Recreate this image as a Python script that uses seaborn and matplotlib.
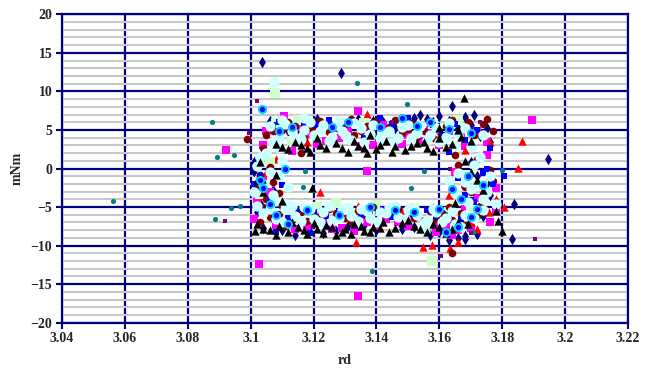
import matplotlib
matplotlib.use("Agg")
import matplotlib.pyplot as plt
import seaborn as sns

# ---- data (rd, mNm) ----
navy_x = [3.118, 3.125, 3.131, 3.139, 3.146, 3.152, 3.156, 3.160, 3.163, 3.166, 3.170, 3.173, 3.176, 3.112, 3.107,
          3.172, 3.176, 3.170,
          3.104, 3.110, 3.119, 3.127, 3.136, 3.145, 3.152, 3.160, 3.166, 3.172, 3.168,
          3.101, 3.103, 3.105, 3.107,
          3.1036, 3.1287, 3.164, 3.1945, 3.1831, 3.1837, 3.1008,
          3.106, 3.115, 3.121, 3.128, 3.134, 3.142, 3.149, 3.154, 3.158, 3.168, 3.171, 3.175,
          3.102, 3.107, 3.114, 3.123, 3.131, 3.140, 3.148, 3.157, 3.163, 3.169, 3.174, 3.175, 3.178,
          3.101, 3.168]
navy_y = [5.8, 6.0, 5.5, 6.2, 5.2, 6.6, 6.4, 6.8, 6.1, 5.3, 5.6, 4.2, 3.4, 4.9, 5.2,
          -1.0, -3.5, 0.8,
          -7.7, -8.0, -7.5, -8.1, -7.3, -5.8, -7.6, -8.2, -9.0, -8.5, -8.8,
          -0.3, -4.5, 1.5, -2.8,
          13.8, 12.4, 8.1, 1.2, -9.15, -4.6, -0.2,
          6.1, 5.3, 6.4, 5.0, 6.4, 6.0, 5.5, 7.0, 6.0, 6.7, 6.9, 5.2,
          -5.7, -6.5, -8.6, -8.4, -7.4, -8.0, -7.9, -8.6, -9.3, -7.3, -6.2, -1.9, -4.4,
          0.9, -9.2]

magenta_x = [3.1106, 3.110, 3.105, 3.118, 3.131, 3.142, 3.150, 3.157, 3.167, 3.175, 3.160, 3.135, 3.148, 3.124,
             3.1341, 3.1894, 3.0921, 3.113, 3.172,
             3.104, 3.108, 3.106, 3.175, 3.168, 3.172, 3.165,
             3.101, 3.108, 3.114, 3.120, 3.129, 3.137, 3.143, 3.150, 3.155, 3.160, 3.166, 3.170, 3.178, 3.176,
             3.1026, 3.1341, 3.137,
             3.109, 3.121, 3.128, 3.139, 3.154, 3.163, 3.168, 3.104,
             3.118, 3.126, 3.133, 3.147, 3.162, 3.168, 3.102, 3.178, 3.159,
             3.111, 3.123, 3.140, 3.152, 3.164, 3.106, 3.116]
magenta_y = [6.8, 6.2, 4.8, 4.5, 5.1, 5.7, 4.3, 5.0, 4.5, 3.5, 3.0, 2.9, 3.2, 3.6,
             7.45, 6.3, 2.4, 2.3, 4.8,
             -1.5, -4.0, 0.5, 1.8, -2.0, -3.8, -0.5,
             -6.5, -7.3, -7.8, -7.2, -7.7, -7.0, -6.6, -7.5, -6.8, -7.2, -8.0, -7.7, -5.5, -7.0,
             -12.4, -16.5, -0.3,
             4.0, 3.2, 4.0, 3.1, 3.6, 4.9, 2.9, 3.0,
             -7.4, -7.9, -8.1, -7.0, -7.5, -5.2, -4.0, -2.5, -8.2,
             -6.9, -6.6, -7.4, -6.3, -8.6, -3.0, 5.4]

red_x = [3.137, 3.127, 3.160, 3.170, 3.176, 3.1862, 3.185, 3.118, 3.105, 3.108, 3.122, 3.134, 3.148, 3.158,
         3.165, 3.170, 3.1335, 3.1548, 3.1577, 3.1635, 3.172, 3.178, 3.1758, 3.112, 3.104, 3.166, 3.1805,
         3.168, 3.163]
red_y = [7.05, 5.4, 4.2, 4.9, 3.5, 3.55, 0.05, 3.5, -0.5, 1.2, -3.0, -4.8, -5.5, -5.0,
         -7.5, -6.9, -9.55, -10.2, -9.9, -10.3, -7.9, -4.0, -5.6, -4.8, -3.6, -9.5, -5.0,
         2.4, -3.5]

palegreen_x = [3.108, 3.115, 3.124, 3.136, 3.148, 3.158, 3.166, 3.1077, 3.113, 3.103, 3.106, 3.174, 3.167,
               3.112, 3.121, 3.133, 3.140, 3.152, 3.163, 3.170, 3.1577, 3.127]
palegreen_y = [5.9, 6.3, 5.0, 5.9, 6.1, 5.8, 6.3, 9.8, 3.6, -3.3, 0.9, -2.2, -0.8,
               -5.7, -5.0, -5.9, -4.7, -5.1, -5.6, -5.0, -12.0, -4.5]

darkred_x = [3.105, 3.110, 3.114, 3.119, 3.122, 3.125, 3.130, 3.133, 3.137, 3.140, 3.144, 3.148, 3.151, 3.155,
             3.158, 3.162, 3.166, 3.169, 3.174, 3.177, 3.0988, 3.116,
             3.103, 3.107, 3.104, 3.109, 3.105,
             3.166, 3.170, 3.172, 3.167, 3.176,
             3.103, 3.109, 3.113, 3.116, 3.122, 3.125, 3.130, 3.134, 3.139, 3.143, 3.147, 3.152, 3.157, 3.161,
             3.164, 3.164,
             3.107, 3.112, 3.117, 3.121, 3.128, 3.132, 3.135, 3.142, 3.146, 3.150, 3.153, 3.157, 3.160, 3.164,
             3.171, 3.175,
             3.102, 3.106, 3.110, 3.104,
             3.168, 3.173, 3.177, 3.165,
             3.106, 3.111, 3.118, 3.127, 3.132, 3.137, 3.141, 3.150, 3.155, 3.159, 3.163, 3.168, 3.172]
darkred_y = [4.3, 5.0, 5.5, 5.2, 6.1, 4.7, 5.8, 4.4, 5.5, 6.2, 5.4, 4.6, 5.9, 4.9,
             4.0, 5.5, 4.6, 6.0, 5.8, 4.9, 3.8, 2.0,
             -0.8, -1.8, -5.0, -3.2, -4.0,
             0.5, -3.1, 1.2, -5.8, -0.2,
             -6.9, -5.9, -6.7, -5.6, -6.0, -5.3, -6.4, -5.5, -5.0, -6.0, -5.2, -6.4, -5.5, -5.8,
             -6.7, -11.0,
             4.9, 6.0, 4.0, 5.0, 5.1, 6.4, 4.9, 4.8, 6.3, 5.1, 4.1, 6.2, 4.8, 6.3,
             4.4, 6.4,
             -2.4, 0.2, -4.8, 2.6,
             -2.4, -4.8, -1.6, 1.8,
             -6.3, -7.5, -6.8, -5.8, -7.0, -6.2, -5.5, -5.8, -7.0, -6.5, -5.0, -7.3, -6.2]

blue_x = [3.107, 3.113, 3.121, 3.129, 3.136, 3.145, 3.154, 3.161, 3.168, 3.163, 3.103, 3.106, 3.110,
          3.166, 3.171, 3.175, 3.115, 3.124, 3.131, 3.138, 3.145, 3.151, 3.159, 3.167, 3.177, 3.1805,
          3.119, 3.108,
          3.109, 3.117, 3.125, 3.133, 3.141, 3.150, 3.158, 3.165, 3.172, 3.176,
          3.101, 3.104, 3.112, 3.120, 3.128, 3.135, 3.142, 3.156, 3.163, 3.170, 3.174, 3.168]
blue_y = [5.7, 4.6, 5.6, 5.3, 4.0, 5.8, 5.3, 4.4, 3.7, 2.2, -1.0, -3.9, -2.2,
          -1.2, -4.4, 0.0, -5.2, -6.2, -5.2, -5.8, -6.3, -5.9, -6.2, -6.5, -2.0, -1.0,
          -8.4, -8.2,
          6.0, 5.8, 6.3, 5.8, 6.6, 6.5, 5.6, 5.8, 5.0, 2.6,
          -2.0, -5.4, -6.4, -5.7, -5.5, -6.0, -5.2, -5.4, -6.0, -4.1, -0.6, -3.4]

ring_x = [3.1036, 3.109, 3.126, 3.141, 3.157, 3.163, 3.104, 3.108, 3.169, 3.164, 3.172, 3.118, 3.146, 3.160,
          3.162, 3.111, 3.167,
          3.113, 3.131, 3.148, 3.153, 3.170, 3.106, 3.112, 3.128, 3.138, 3.152, 3.166, 3.170, 3.174, 3.103]
ring_y = [7.7, 4.8, 5.4, 5.4, 6.0, 5.1, -2.5, -6.0, -1.0, -2.7, -5.2, -5.4, -5.4, -5.3,
          -8.3, 0.0, -3.9,
          5.4, 6.0, 6.5, 5.5, 4.6, -4.6, -7.2, -6.0, -5.0, -5.7, -7.6, -6.3, -2.2, -1.5]

lightcyan_x = [3.106, 3.109, 3.111, 3.114, 3.117, 3.120, 3.123, 3.126, 3.129, 3.132, 3.135, 3.138, 3.141,
               3.144, 3.147, 3.150, 3.153, 3.156, 3.159, 3.162, 3.165, 3.168, 3.117, 3.128, 3.109, 3.173,
               3.1075,
               3.104, 3.107, 3.102, 3.109, 3.105, 3.111,
               3.168, 3.171, 3.165, 3.174, 3.170, 3.176,
               3.104, 3.108, 3.111, 3.114, 3.117, 3.120, 3.123, 3.126, 3.129, 3.132, 3.135, 3.138, 3.141,
               3.144, 3.147, 3.150, 3.153, 3.156, 3.159, 3.162, 3.165, 3.168, 3.1555,
               3.107, 3.110, 3.113, 3.116, 3.119, 3.122, 3.125, 3.127, 3.130, 3.133, 3.136, 3.139, 3.142,
               3.145, 3.148, 3.151, 3.154, 3.157, 3.160, 3.163, 3.166, 3.170, 3.174,
               3.101, 3.106, 3.110, 3.103, 3.108, 3.112,
               3.166, 3.172, 3.169, 3.175, 3.163, 3.178,
               3.102, 3.106, 3.110, 3.113, 3.116, 3.119, 3.122, 3.125, 3.128, 3.131, 3.134, 3.137, 3.140,
               3.143, 3.146, 3.149, 3.152, 3.155, 3.158, 3.161, 3.164, 3.167, 3.171, 3.174]
lightcyan_y = [5.5, 4.0, 5.8, 3.9, 5.0, 4.4, 5.7, 4.1, 4.8, 3.7, 5.2, 4.5, 3.9,
               4.9, 4.0, 5.6, 4.6, 3.7, 5.3, 4.1, 3.0, 5.2, 6.5, 6.2, 2.6, 1.5,
               11.2,
               -2.0, -3.5, 0.3, -1.0, 2.0, -4.6,
               -1.8, 0.5, -3.2, -4.0, -2.6, -1.0,
               -5.8, -6.6, -5.3, -6.2, -5.0, -6.5, -5.6, -6.8, -5.4, -6.1, -5.2, -6.4, -5.6,
               -5.0, -6.3, -5.4, -6.0, -6.7, -5.7, -6.4, -7.2, -6.0, -8.2,
               3.4, 6.3, 4.8, 3.8, 6.0, 4.9, 3.6, 5.6, 4.3, 5.9, 3.5, 5.7, 4.6,
               3.4, 5.4, 3.9, 5.5, 4.4, 3.4, 5.9, 4.3, 2.8, 4.4,
               -3.0, -0.5, 1.0, 1.5, -4.2, -2.4,
               -0.6, -2.0, -4.4, -3.0, -1.6, -4.6,
               -4.8, -5.2, -7.0, -4.9, -6.8, -5.3, -7.0, -4.9, -6.4, -5.0, -6.8, -5.5, -7.0,
               -5.8, -4.8, -6.6, -5.1, -7.1, -5.2, -6.9, -5.5, -7.6, -6.4, -5.4]

black_x = [3.108, 3.112, 3.116, 3.119, 3.124, 3.127, 3.131, 3.134, 3.137, 3.140, 3.143, 3.146, 3.149,
           3.153, 3.156, 3.160, 3.164, 3.167, 3.170, 3.1678, 3.121, 3.138,
           3.102, 3.108, 3.104, 3.110, 3.103, 3.1036,
           3.168, 3.172, 3.174, 3.178, 3.1786, 3.1799, 3.170, 3.165,
           3.102, 3.106, 3.109, 3.112, 3.115, 3.118, 3.121, 3.124, 3.127, 3.130, 3.133, 3.136, 3.139,
           3.142, 3.146, 3.150, 3.154, 3.158, 3.162, 3.166, 3.1195,
           3.110, 3.114, 3.118, 3.122, 3.129, 3.133, 3.136, 3.141, 3.145, 3.151, 3.155, 3.158, 3.162,
           3.166, 3.160,
           3.104, 3.108, 3.113, 3.117, 3.120, 3.123, 3.126, 3.129, 3.132, 3.135, 3.138, 3.141, 3.144,
           3.148, 3.152, 3.156, 3.160, 3.164, 3.169, 3.1015]
black_y = [3.2, 2.5, 3.0, 2.2, 2.7, 3.3, 2.2, 2.9, 2.0, 2.5, 3.6, 2.9, 2.4,
           3.3, 2.6, 3.9, 3.2, 4.1, 3.6, 9.1, 4.0, 4.3,
           -1.5, -0.8, -3.0, -4.2, 0.8, -1.4,
           1.0, -1.5, -2.8, -5.5, -6.8, -8.1, -0.5, -4.5,
           -7.2, -8.0, -7.4, -8.3, -7.6, -8.5, -7.9, -7.3, -8.6, -7.8, -7.2, -8.1, -7.6,
           -6.9, -7.7, -6.7, -7.9, -7.2, -8.4, -7.0, -2.5,
           2.8, 3.5, 2.6, 3.1, 2.6, 3.6, 2.7, 3.1, 2.2, 2.9, 3.5, 2.3, 2.8,
           5.0, 5.2,
           -7.8, -8.6, -7.0, -8.0, -7.1, -8.4, -7.6, -8.2, -8.5, -7.5, -8.3, -7.7, -8.2,
           -7.1, -7.5, -8.2, -7.6, -7.9, -7.2, -8.1]

teal_x = [3.0562, 3.0877, 3.0893, 3.0947, 3.0937, 3.0966, 3.0887, 3.1338, 3.1166, 3.151, 3.1386,
          3.1551, 3.1497, 3.1173, 3.1707, 3.180]
teal_y = [-4.2, 6.03, 1.5, 1.75, -5.1, -4.9, -6.6, 11.1, -2.4, -2.5, -13.3,
          -0.3, 8.35, -0.3, -8.2, -0.2]

purple_x = [3.102, 3.0995, 3.0919, 3.1605, 3.1904, 3.170, 3.1634, 3.108, 3.145, 3.173]
purple_y = [8.75, 4.6, -6.8, -11.4, -9.2, -8.4, -0.1, -6.3, 6.0, 6.0]

x_ticks = [3.04, 3.06, 3.08, 3.1, 3.12, 3.14, 3.16, 3.18, 3.2, 3.22]
x_labels = ["3.04", "3.06", "3.08", "3.1", "3.12", "3.14", "3.16", "3.18", "3.2", "3.22"]
y_ticks = [-20, -15, -10, -5, 0, 5, 10, 15, 20]

sns.set_style("white")
plt.rcParams['font.family'] = ['Liberation Serif', 'DejaVu Serif']
plt.rcParams['font.weight'] = 'bold'

fig = plt.figure(figsize=(6.55, 3.69), dpi=100)
ax = fig.add_axes([0.0947, 0.1255, 0.8641, 0.8357])

navy = '#000080'

# series: (x, y, colour, marker, size)
series = [
    (navy_x, navy_y, navy, 'd', 34),
    (magenta_x, magenta_y, '#ff00ff', 's', 28),
    (red_x, red_y, '#ff0000', '^', 36),
    (palegreen_x, palegreen_y, '#ccffcc', 's', 45),
    (darkred_x, darkred_y, '#800000', 'o', 30),
    (blue_x, blue_y, '#0000ff', 's', 14),
    (lightcyan_x, lightcyan_y, '#ccffff', 'o', 55),
    (black_x, black_y, '#000000', '^', 36),
    (teal_x, teal_y, '#008080', 'o', 14),
    (purple_x, purple_y, '#800080', 's', 11),
]
for xs, ys, col, mk, sz in series:
    sns.scatterplot(x=xs, y=ys, color=col, marker=mk, s=sz, linewidth=0, ax=ax, legend=False, zorder=3)

# cyan ring with blue centre
sns.scatterplot(x=ring_x, y=ring_y, color='#0000ff', edgecolor='#00ccff', marker='o', s=26,
                linewidth=1.4, ax=ax, legend=False, zorder=3)

ax.set_xlim(3.04, 3.22)
ax.set_ylim(-20, 20)
ax.set_xticks(x_ticks)
ax.set_xticklabels(x_labels)
ax.set_yticks(y_ticks)
ax.set_yticks(range(-20, 21), minor=True)
ax.set_axisbelow(True)
ax.grid(which='minor', axis='y', color='#c8c8c8', linewidth=1.5, zorder=0)
ax.grid(which='major', axis='both', color=navy, linewidth=1.6, zorder=1)
ax.tick_params(which='major', direction='out', length=4, width=1.5, color=navy,
               labelsize=10, pad=3, left=True, bottom=True)
ax.tick_params(which='minor', length=0)
for sp in ax.spines.values():
    sp.set_color(navy)
    sp.set_linewidth(1.6)
for lab in ax.get_xticklabels() + ax.get_yticklabels():
    lab.set_fontweight('bold')

ax.set_xlabel('rd', fontsize=10, fontweight='bold', labelpad=6)
ax.set_ylabel('mNm', fontsize=10, fontweight='bold', labelpad=5)

fig.savefig('out.png', dpi=100, facecolor='white')
